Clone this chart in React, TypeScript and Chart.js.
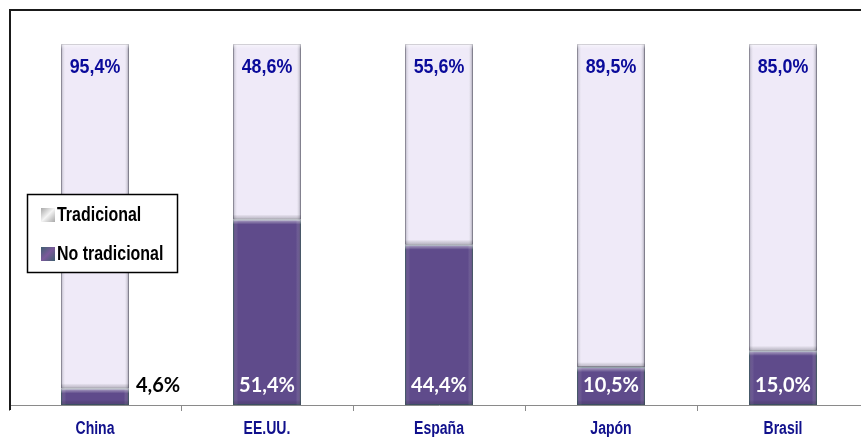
import React, { useEffect, useRef } from "react";
import { Chart, registerables } from "chart.js";

Chart.register(...registerables);

const categories = ["China", "EE.UU.", "España", "Japón", "Brasil"];
const tradicional = [95.4, 48.6, 55.6, 89.5, 85.0];
const noTradicional = [4.6, 51.4, 44.4, 10.5, 15.0];
const legendLabels = ["Tradicional", "No tradicional"];

const fmt = (v: number) => v.toFixed(1).replace(".", ",") + "%";

const LIGHT = "#efeaf8";
const DARK = "#5f4b8b";
const SANS = "'Liberation Sans', Arial, sans-serif";

function drawScaled(ctx: any, text: string, x: number, y: number, font: string, sx: number, align: string, color: string) {
  ctx.save();
  ctx.translate(x, y);
  ctx.scale(sx, 1);
  ctx.font = font;
  ctx.textAlign = align;
  ctx.textBaseline = "alphabetic";
  ctx.fillStyle = color;
  ctx.fillText(text, 0, 0);
  ctx.restore();
}

const framePlugin = {
  id: "frame",
  afterDraw(chart: any) {
    const ctx = chart.ctx;
    ctx.save();
    ctx.strokeStyle = "#1a1a1a";
    ctx.lineWidth = 2;
    ctx.beginPath();
    ctx.moveTo(10, 410);
    ctx.lineTo(10, 10);
    ctx.lineTo(chart.width, 10);
    ctx.stroke();
    ctx.restore();
  },
};

const bevelPlugin = {
  id: "bevel",
  afterDatasetsDraw(chart: any) {
    const ctx = chart.ctx;
    ctx.save();
    [0, 1].forEach((di) => {
      const meta = chart.getDatasetMeta(di);
      meta.data.forEach((bar: any) => {
        const left = bar.x - bar.width / 2;
        const right = bar.x + bar.width / 2;
        const top = Math.min(bar.y, bar.base);
        const bottom = Math.max(bar.y, bar.base);
        const h = bottom - top;
        if (h < 2) return;
        const e = 5;
        let g = ctx.createLinearGradient(left, 0, left + e, 0);
        g.addColorStop(0, "rgba(60,60,80,0.35)");
        g.addColorStop(1, "rgba(255,255,255,0)");
        ctx.fillStyle = g;
        ctx.fillRect(left, top, e, h);
        g = ctx.createLinearGradient(right - e, 0, right, 0);
        g.addColorStop(0, "rgba(255,255,255,0)");
        g.addColorStop(1, "rgba(50,50,70,0.45)");
        ctx.fillStyle = g;
        ctx.fillRect(right - e, top, e, h);
        g = ctx.createLinearGradient(0, top, 0, top + e);
        g.addColorStop(0, "rgba(255,255,255,0.55)");
        g.addColorStop(1, "rgba(255,255,255,0)");
        ctx.fillStyle = g;
        ctx.fillRect(left, top, bar.width, Math.min(e, h));
        g = ctx.createLinearGradient(0, bottom - e, 0, bottom);
        g.addColorStop(0, "rgba(0,0,0,0)");
        g.addColorStop(1, "rgba(60,60,80,0.3)");
        ctx.fillStyle = g;
        ctx.fillRect(left, bottom - Math.min(e, h), bar.width, Math.min(e, h));
      });
    });
    ctx.restore();
  },
};

const labelPlugin = {
  id: "valueLabels",
  afterDatasetsDraw(chart: any) {
    const ctx = chart.ctx;
    const m0 = chart.getDatasetMeta(0);
    const m1 = chart.getDatasetMeta(1);
    m1.data.forEach((bar: any, i: number) => {
      drawScaled(ctx, fmt(tradicional[i]), bar.x, bar.y + 29, "bold 21px " + SANS, 0.85, "center", "#0a0a9a");
    });
    m0.data.forEach((bar: any, i: number) => {
      const v = noTradicional[i];
      const font = "bold 20px Lato, 'Open Sans', sans-serif";
      if (v < 8) {
        drawScaled(ctx, fmt(v), bar.x + bar.width / 2 + 7, bar.base - 13, font, 1, "left", "#000000");
      } else {
        drawScaled(ctx, fmt(v), bar.x, bar.base - 13, font, 1, "center", "#ffffff");
      }
    });
    // category labels
    const xs = chart.scales.x;
    categories.forEach((c, i) => {
      const x = xs.getPixelForValue(i);
      drawScaled(ctx, c, x, 434, "bold 18px " + SANS, 0.78, "center", "#10108c");
    });
  },
};

const legendPlugin = {
  id: "boxLegend",
  afterDraw(chart: any) {
    const ctx = chart.ctx;
    ctx.save();
    ctx.fillStyle = "#ffffff";
    ctx.fillRect(27, 194, 150, 78);
    ctx.strokeStyle = "#000000";
    ctx.lineWidth = 1.5;
    ctx.strokeRect(27.5, 194.5, 150, 78);
    const ys = [215, 254];
    const cols = [["#f4f4f4", "#a8a8a8"], ["#7a5a9a", "#3f6070"]];
    ys.forEach((y, i) => {
      const g = ctx.createLinearGradient(41, y - 7, 55, y + 7);
      g.addColorStop(0, cols[i][1]);
      g.addColorStop(0.5, cols[i][0]);
      g.addColorStop(1, cols[i][1]);
      ctx.fillStyle = g;
      ctx.fillRect(41, y - 7, 14, 14);
    });
    ctx.restore();
    drawScaled(ctx, legendLabels[0], 57, 221, "bold 21px " + SANS, 0.76, "left", "#000000");
    drawScaled(ctx, legendLabels[1], 57, 260, "bold 21px " + SANS, 0.76, "left", "#000000");
  },
};

export default function App() {
  const ref = useRef<HTMLCanvasElement>(null);
  useEffect(() => {
    if (!ref.current) return;
    const chart = new Chart(ref.current, {
      type: "bar",
      data: {
        labels: categories,
        datasets: [
          {
            label: legendLabels[1],
            data: noTradicional,
            backgroundColor: DARK,
            borderColor: "#3e5a6a",
            borderWidth: 1,
            borderSkipped: false,
          },
          {
            label: legendLabels[0],
            data: tradicional,
            backgroundColor: LIGHT,
            borderColor: "#a6a3ae",
            borderWidth: 1,
            borderSkipped: false,
          },
        ],
      },
      options: {
        animation: false,
        responsive: false,
        devicePixelRatio: 1,
        layout: { padding: { left: 9, right: 11, top: 44, bottom: 0 } },
        plugins: { legend: { display: false }, tooltip: { enabled: false } },
        datasets: { bar: { categoryPercentage: 1, barPercentage: 0.395 } },
        scales: {
          x: {
            stacked: true,
            afterFit: (s: any) => {
              s.height = 32;
            },
            border: { color: "#8a8a8a", width: 1 },
            grid: { drawOnChartArea: false, drawTicks: true, tickLength: 6, color: "#8a8a8a" },
            ticks: { display: false },
          },
          y: { stacked: true, display: false, min: 0, max: 100 },
        },
      },
      plugins: [bevelPlugin, labelPlugin, legendPlugin, framePlugin],
    } as any);
    return () => chart.destroy();
  }, []);
  return (
    <div style={{ position: "fixed", left: 0, top: 0, width: 861, height: 437, overflow: "hidden", background: "#fff" }}>
      <canvas ref={ref} width={880} height={437} style={{ display: "block", width: 880, height: 437 }} />
    </div>
  );
}
